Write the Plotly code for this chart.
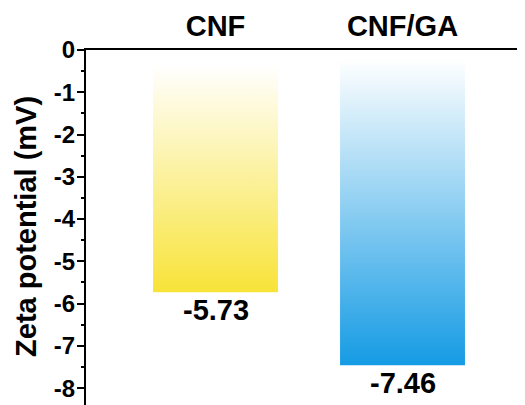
import plotly.graph_objects as go

categories = ["CNF", "CNF/GA"]
values = [-5.73, -7.46]
value_labels = ["-5.73", "-7.46"]
tick_vals = [0, -1, -2, -3, -4, -5, -6, -7, -8]
tick_text = ["0", "-1", "-2", "-3", "-4", "-5", "-6", "-7", "-8"]
bar_tops = [-0.35, -0.22]
bottom_colors = ["#F8E338", "#159BE4"]

FONT = "Liberation Sans, Arial, sans-serif"
half_w = 0.334

fig = go.Figure()
for i, (cat, v, top, col) in enumerate(zip(categories, values, bar_tops, bottom_colors)):
    x0, x1 = i - half_w, i + half_w
    fig.add_trace(go.Scatter(
        x=[x0, x1, x1, x0, x0],
        y=[top, top, v, v, top],
        mode="lines",
        line=dict(width=0),
        fill="toself",
        fillgradient=dict(type="vertical",
                          colorscale=[[0, col], [1, "#FFFFFF"]]),
        hoverinfo="skip",
        showlegend=False,
    ))
    fig.add_annotation(x=i, y=v, text="<b>" + value_labels[i] + "</b>", showarrow=False,
                       xref="x", yref="y", yanchor="top", yshift=0,
                       font=dict(family=FONT, size=29, color="black"))

fig.add_annotation(x=-0.137, y=0.504, xref="paper", yref="paper",
                   text="<b>Zeta potential (mV)</b>", textangle=-90, showarrow=False,
                   xanchor="center", yanchor="middle",
                   font=dict(family=FONT, size=29, color="black"))

fig.update_layout(
    width=525, height=405,
    margin=dict(l=78, r=8, t=42, b=8),
    paper_bgcolor="white", plot_bgcolor="white",
    font=dict(family=FONT, color="black"),
    xaxis=dict(
        side="top", range=[-0.6925, 1.655], automargin=False,
        tickmode="array", tickvals=[0, 1],
        ticktext=["<b>" + c + "</b>" for c in categories],
        ticks="", showline=True, linecolor="black", linewidth=2,
        showgrid=False, zeroline=False,
        tickfont=dict(family=FONT, size=29, color="black"),
    ),
    yaxis=dict(
        range=[-8.4, 0], automargin=False,
        tickmode="array", tickvals=tick_vals,
        ticktext=["<b>" + t + "</b>" for t in tick_text],
        ticks="outside", ticklen=7, tickwidth=2, tickcolor="black",
        ticklabelstandoff=-3,
        minor=dict(ticks="outside", ticklen=3, tickwidth=1.5, tickcolor="black", dtick=0.5),
        showline=True, linecolor="black", linewidth=2,
        showgrid=False, zeroline=False,
        tickfont=dict(family=FONT, size=24, color="black"),
    ),
)

fig.write_html("out.html")
